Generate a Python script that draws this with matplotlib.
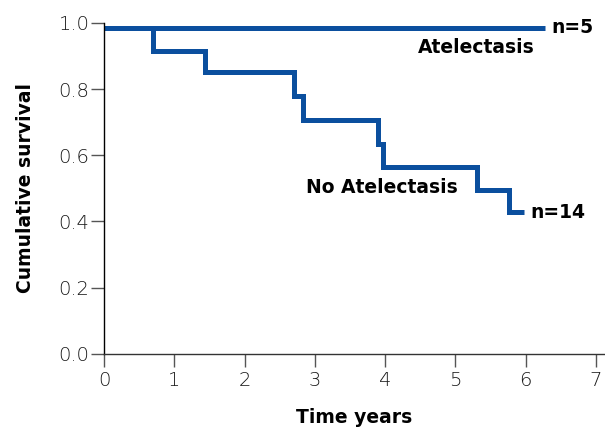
import matplotlib
matplotlib.use('Agg')
import matplotlib.pyplot as plt

# step points (years, survival)
atel_t = [0, 6.27]
atel_s = [0.985, 0.985]

no_atel_t = [0, 0.69, 1.44, 2.71, 2.83, 3.90, 3.97, 5.30, 5.76, 5.97]
no_atel_s = [0.985, 0.915, 0.85, 0.78, 0.705, 0.635, 0.565, 0.495, 0.43, 0.43]

xticks = [0, 1, 2, 3, 4, 5, 6, 7]
yticks = [0.0, 0.2, 0.4, 0.6, 0.8, 1.0]

plt.rcParams['font.family'] = ['DejaVu Sans']
blue = '#0b4f9e'

fig = plt.figure(figsize=(6.05, 4.3), dpi=100)
ax = fig.add_axes([0.172, 0.177, 0.827, 0.77])

ax.step(atel_t, atel_s, where='post', color=blue, lw=3.6, solid_capstyle='butt')
ax.step(no_atel_t, no_atel_s, where='post', color=blue, lw=3.6, solid_capstyle='butt',
        solid_joinstyle='miter')

ax.set_xlim(0, 7.12)
ax.set_ylim(0, 1.0)
ax.set_xticks(xticks)
ax.set_yticks(yticks)
ax.set_yticklabels(['%.1f' % v for v in yticks])

for s in ['top', 'right']:
    ax.spines[s].set_visible(False)
ax.spines['left'].set_color('black')
ax.spines['left'].set_linewidth(1.0)
ax.spines['bottom'].set_color('#333333')
ax.spines['bottom'].set_linewidth(1.0)

ax.tick_params(axis='y', length=9.4, width=1, color='#555555', labelsize=14,
               labelcolor='#1a1a1a', pad=1)
ax.tick_params(axis='x', length=9, width=1, color='#555555', labelsize=14,
               labelcolor='#1a1a1a', pad=3)
for lab in ax.get_xticklabels() + ax.get_yticklabels():
    lab.set_fontweight('light')

ax.set_ylabel('Cumulative survival', fontsize=13.5, fontweight='bold', labelpad=17)
ax.set_xlabel('Time years', fontsize=13.5, fontweight='bold', labelpad=13)

ax.text(6.37, 0.985, 'n=5', fontsize=13.5, fontweight='bold', va='center', ha='left')
ax.text(5.3, 0.925, 'Atelectasis', fontsize=13.5, fontweight='bold', va='center', ha='center')
ax.text(3.95, 0.502, 'No Atelectasis', fontsize=13.5, fontweight='bold', va='center', ha='center')
ax.text(6.07, 0.428, 'n=14', fontsize=13.5, fontweight='bold', va='center', ha='left')

fig.savefig('out.png', dpi=100)
